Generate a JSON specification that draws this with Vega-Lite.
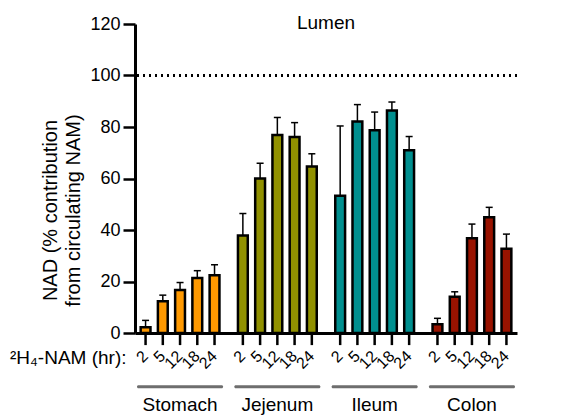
{
  "$schema": "https://vega.github.io/schema/vega-lite/v6.json",
  "width": 382,
  "height": 309,
  "autosize": {"type": "none"},
  "padding": {"left": 135, "top": 24, "right": 61, "bottom": 83},
  "title": {"text": "Lumen", "fontSize": 19, "fontWeight": "normal", "font": "Liberation Sans", "color": "black", "anchor": "middle", "baseline": "alphabetic", "offset": 0, "dy": 33},
  "config": {
    "view": {"stroke": null},
    "font": "Liberation Sans",
    "axis": {"labelFont": "Liberation Sans", "titleFont": "Liberation Sans", "labelColor": "black", "titleColor": "black", "grid": false}
  },
  "data": {"values": [
    {"tissue": "Stomach", "time": 2, "value": 2.2, "upper": 4.9},
    {"tissue": "Stomach", "time": 5, "value": 12.3, "upper": 14.7},
    {"tissue": "Stomach", "time": 12, "value": 16.7, "upper": 19.6},
    {"tissue": "Stomach", "time": 18, "value": 21.4, "upper": 24.2},
    {"tissue": "Stomach", "time": 24, "value": 22.4, "upper": 26.5},
    {"tissue": "Jejenum", "time": 2, "value": 37.9, "upper": 46.4},
    {"tissue": "Jejenum", "time": 5, "value": 60.0, "upper": 65.9},
    {"tissue": "Jejenum", "time": 12, "value": 76.9, "upper": 83.7},
    {"tissue": "Jejenum", "time": 18, "value": 76.1, "upper": 81.7},
    {"tissue": "Jejenum", "time": 24, "value": 64.7, "upper": 69.6},
    {"tissue": "Ileum", "time": 2, "value": 53.3, "upper": 80.4},
    {"tissue": "Ileum", "time": 5, "value": 82.1, "upper": 88.7},
    {"tissue": "Ileum", "time": 12, "value": 78.7, "upper": 85.8},
    {"tissue": "Ileum", "time": 18, "value": 86.4, "upper": 89.7},
    {"tissue": "Ileum", "time": 24, "value": 71.0, "upper": 76.3},
    {"tissue": "Colon", "time": 2, "value": 3.4, "upper": 5.7},
    {"tissue": "Colon", "time": 5, "value": 14.1, "upper": 16.0},
    {"tissue": "Colon", "time": 12, "value": 36.8, "upper": 42.3},
    {"tissue": "Colon", "time": 18, "value": 45.0, "upper": 48.8},
    {"tissue": "Colon", "time": 24, "value": 32.7, "upper": 38.4}
  ]},
  "encoding": {
    "x": {"field": "tissue", "type": "nominal",
      "scale": {"domain": ["Stomach", "Jejenum", "Ileum", "Colon"], "paddingInner": 0.114, "paddingOuter": 0.02},
      "axis": {"orient": "bottom", "ticks": false, "domain": true, "domainColor": "black", "domainWidth": 3, "labelAngle": 0, "labelFontSize": 19, "labelPadding": 62, "labelBaseline": "top",
        "title": "²H₄-NAM (hr):", "titleFontSize": 19, "titleFontWeight": "normal", "titleX": -9, "titleY": 30, "titleAlign": "right", "titleAnchor": "start", "titleBaseline": "alphabetic", "titleAngle": 0}
    },
    "xOffset": {"field": "time", "type": "nominal", "scale": {"domain": [2, 5, 12, 18, 24], "paddingInner": 0.43, "paddingOuter": 0.215}}
  },
  "layer": [
    {
      "data": {"values": [{"tissue": "Stomach"}, {"tissue": "Jejenum"}, {"tissue": "Ileum"}, {"tissue": "Colon"}]},
      "mark": {"type": "bar", "color": "#6e6e6e", "cornerRadius": 1.5},
      "encoding": {
        "xOffset": null,
        "y": {"datum": -20.3},
        "y2": {"datum": -21.5}
      }
    },
    {
      "mark": {"type": "rule", "stroke": "black", "strokeWidth": 1.5},
      "encoding": {
        "y": {"field": "value", "type": "quantitative"},
        "y2": {"field": "upper"}
      }
    },
    {
      "mark": {"type": "tick", "orient": "horizontal", "color": "black", "thickness": 1.5, "size": 7, "opacity": 1},
      "encoding": {
        "y": {"field": "upper", "type": "quantitative"}
      }
    },
    {
      "mark": {"type": "bar", "stroke": "black", "strokeWidth": 2.5, "strokeJoin": "miter"},
      "encoding": {
        "y": {"field": "value", "type": "quantitative",
          "scale": {"domain": [0, 120], "nice": false},
          "axis": {"values": [0, 20, 40, 60, 80, 100, 120], "tickSize": 12, "tickWidth": 2.5, "tickColor": "black", "domainColor": "black", "domainWidth": 3, "labelFontSize": 18, "labelPadding": 3,
            "title": ["NAD (% contribution", "from circulating NAM)"], "titleFontSize": 20, "titleFontWeight": "normal", "titleLineHeight": 23, "titlePadding": 6, "titleY": 186}
        },
        "color": {"field": "tissue", "type": "nominal", "legend": null,
          "scale": {"domain": ["Stomach", "Jejenum", "Ileum", "Colon"], "range": ["#ff9900", "#919100", "#008f8f", "#991300"]}}
      }
    },
    {
      "mark": {"type": "rule", "stroke": "black", "strokeWidth": 2, "strokeDash": [2, 4]},
      "encoding": {"y": {"datum": 100}, "x": null, "xOffset": null}
    },
    {
      "mark": {"type": "rule", "stroke": "black", "strokeWidth": 2.5},
      "encoding": {"y": {"datum": 0}, "y2": {"datum": -4.7}}
    },
    {
      "mark": {"type": "text", "angle": 315, "align": "right", "baseline": "middle", "fontSize": 16, "color": "black"},
      "encoding": {"y": {"datum": -8.0}, "text": {"field": "time", "type": "nominal"}}
    }
  ]
}
